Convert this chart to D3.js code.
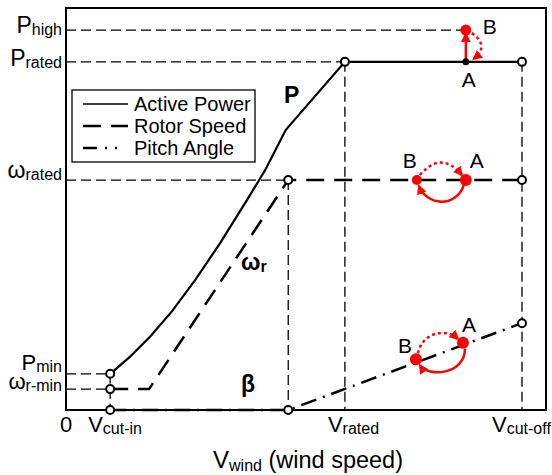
<!DOCTYPE html>
<html><head><meta charset="utf-8">
<script src="https://cdn.jsdelivr.net/npm/d3@7/dist/d3.min.js"></script>
<style>
html,body{margin:0;padding:0;background:#fff;}
text{font-family:"Liberation Sans",Arial,Helvetica,sans-serif;fill:#000;}
</style></head>
<body>
<svg id="chart" width="552" height="475"></svg>
<script>
// ---- data (schematic wind-turbine operating curves, normalised units 0..100) ----
const powerWind = [9.2, 13.3, 17.5, 22.1, 26.9, 32.1, 37.7, 41.5, 45.8, 58.1, 95];
const powerVals = [9.0, 13.2, 18.2, 24.6, 32.3, 41.5, 52.2, 59.7, 69.7, 86.6, 86.6];
const rotorWind = [9.2, 17.3, 46.3, 95];
const rotorVals = [5.2, 5.2, 57.2, 57.2];
const pitchWind = [9.2, 46.3, 95];
const pitchVals = [0, 0, 21.6];

const vCutIn = 9.2, vKnee = 46.3, vRated = 58.1, vCutOff = 95;
const pHigh = 94.5, pRated = 86.6, wRated = 57.2, pMin = 9.0, wRmin = 5.2;

const xTickLabels = [
  {v: vCutIn,  main: "V", sub: "cut-in"},
  {v: vRated,  main: "V", sub: "rated"},
  {v: vCutOff, main: "V", sub: "cut-off"}
];
const yTickLabels = [
  {v: pHigh,  main: "P", sub: "high"},
  {v: pRated, main: "P", sub: "rated"},
  {v: wRated, main: "ω", sub: "rated"},
  {v: pMin,   main: "P", sub: "min"},
  {v: wRmin,  main: "ω", sub: "r-min"}
];
const legendItems = ["Active Power", "Rotor Speed", "Pitch Angle"];

// annotation points (A -> B transitions)
const topA = [83.3, pRated], topB = [83.3, pHigh];
const midA = [83.3, wRated], midB = [73.1, wRated];
const pitA = [82.7, 16.7],   pitB = [72.9, 12.6];

// ---- layout ----
const svg = d3.select("#chart");
const x = d3.scaleLinear().domain([0, 100]).range([66, 546]);
const y = d3.scaleLinear().domain([0, 100]).range([410, 8]);

const defs = svg.append("defs");
defs.append("marker").attr("id", "arrR").attr("viewBox", "0 0 10 10")
  .attr("refX", 8).attr("refY", 5).attr("markerWidth", 4).attr("markerHeight", 4)
  .attr("orient", "auto").append("path").attr("d", "M0,0 L10,5 L0,10 z").attr("fill", "red");

const zip = (a, b) => a.map((v, i) => [v, b[i]]);
const line = d3.line().x(d => x(d[0])).y(d => y(d[1]));

// guide dashed lines
const guide = (x1, y1, x2, y2) => svg.append("line")
  .attr("x1", x(x1)).attr("y1", y(y1)).attr("x2", x(x2)).attr("y2", y(y2))
  .attr("stroke", "#000").attr("stroke-width", 1.3).attr("stroke-dasharray", "10,5");
guide(0, pHigh, topB[0], pHigh);
guide(0, pRated, vRated, pRated);
guide(0, wRated, vKnee, wRated);
guide(0, pMin, vCutIn, pMin);
guide(0, wRmin, vCutIn, wRmin);
guide(vCutIn, pMin, vCutIn, 0);
guide(vKnee, wRated, vKnee, 0);
guide(vRated, pRated, vRated, 0);
guide(vCutOff, pRated, vCutOff, 0);

// frame
svg.append("rect").attr("x", x(0)).attr("y", y(100)).attr("width", x(100) - x(0))
  .attr("height", y(0) - y(100)).attr("fill", "none").attr("stroke", "#000").attr("stroke-width", 2);

// curves
svg.append("path").attr("d", line(zip(pitchWind, pitchVals))).attr("fill", "none")
  .attr("stroke", "#000").attr("stroke-width", 2.5).attr("stroke-dasharray", "16,7,2,7");
svg.append("path").attr("d", line(zip(rotorWind, rotorVals))).attr("fill", "none")
  .attr("stroke", "#000").attr("stroke-width", 2.5).attr("stroke-dasharray", "18,10");
svg.append("path").attr("d", line(zip(powerWind, powerVals))).attr("fill", "none")
  .attr("stroke", "#000").attr("stroke-width", 2.2);

// open circles at curve ends / breaks
const openPts = [
  [powerWind[0], powerVals[0]], [vRated, pRated], [vCutOff, pRated],
  [rotorWind[0], rotorVals[0]], [vKnee, wRated], [vCutOff, wRated],
  [pitchWind[0], pitchVals[0]], [vKnee, 0], [vCutOff, pitchVals[2]]
];
svg.selectAll("circle.open").data(openPts).enter().append("circle").attr("class", "open")
  .attr("cx", d => x(d[0])).attr("cy", d => y(d[1])).attr("r", 4)
  .attr("fill", "#fff").attr("stroke", "#000").attr("stroke-width", 2);

// curve labels
svg.append("text").attr("x", 284).attr("y", 103).attr("font-size", 23).attr("font-weight", "bold").text("P");
const wr = svg.append("text").attr("x", 241).attr("y", 270).attr("font-size", 23).attr("font-weight", "bold");
wr.append("tspan").text("ω");
wr.append("tspan").attr("font-size", 16).attr("dy", 2).text("r");
svg.append("text").attr("x", 241).attr("y", 392).attr("font-size", 23).attr("font-weight", "bold").text("β");

// legend
const lg = svg.append("g");
lg.append("rect").attr("x", 72).attr("y", 90).attr("width", 183).attr("height", 72)
  .attr("fill", "#fff").attr("stroke", "#000").attr("stroke-width", 1.3);
const legDash = [null, "18,10", "14,8,2,8,2,30"];
legendItems.forEach((name, i) => {
  const ry = 104 + i * 22;
  lg.append("line").attr("x1", 83).attr("x2", 128).attr("y1", ry).attr("y2", ry)
    .attr("stroke", "#000").attr("stroke-width", i === 0 ? 1.5 : 2.5)
    .attr("stroke-dasharray", legDash[i]);
  lg.append("text").attr("x", 134).attr("y", ry + 7).attr("font-size", 20).text(name);
});

// y labels (each part as its own text so the two lowest labels do not collide)
const yOff = [3, 4, -2, -4, 0];
yTickLabels.forEach((t, i) => {
  const g = svg.append("g");
  const sub = g.append("text").attr("x", 62).attr("y", y(t.v) + yOff[i] + 2)
    .attr("text-anchor", "end").attr("font-size", 16).text(t.sub);
  const w = sub.node().getComputedTextLength();
  g.append("text").attr("x", 62 - w).attr("y", y(t.v) + yOff[i])
    .attr("text-anchor", "end").attr("font-size", i >= 3 ? 22 : 23).text(t.main);
});

// x labels
svg.append("text").attr("x", x(0)).attr("y", 432).attr("font-size", 22).attr("text-anchor", "middle").text("0");
const xOff = [-22, -17, -30];
xTickLabels.forEach((t, i) => {
  const tx = svg.append("text").attr("x", x(t.v) + xOff[i]).attr("y", 432);
  tx.append("tspan").attr("font-size", 22).text(t.main);
  tx.append("tspan").attr("font-size", 16).attr("dy", 2).text(t.sub);
});
const xt = svg.append("text").attr("x", 213).attr("y", 468);
xt.append("tspan").attr("font-size", 24).text("V");
xt.append("tspan").attr("font-size", 16).attr("dy", 3).text("wind");
xt.append("tspan").attr("font-size", 23.5).attr("dy", -3).text(" (wind speed)");

// ---- red annotations ----
const red = "red";
const arc = (d, dotted) => svg.append("path").attr("d", d).attr("fill", "none")
  .attr("stroke", red).attr("stroke-width", 2.5).attr("stroke-dasharray", dotted ? "3,3" : null)
  .attr("marker-end", "url(#arrR)");

// top: P rated -> P high
const tA = [x(topA[0]), y(topA[1])], tB = [x(topB[0]), y(topB[1])];
arc(`M${tA[0]},${tA[1]} L${tB[0]},${tB[1] + 4}`, false);
arc(`M${tB[0] + 6},${tB[1] + 3} Q${tB[0] + 24},${(tA[1] + tB[1]) / 2} ${tA[0] + 8},${tA[1] - 3}`, true);
svg.append("circle").attr("cx", tB[0]).attr("cy", tB[1]).attr("r", 5.5).attr("fill", red);
svg.append("circle").attr("cx", tA[0]).attr("cy", tA[1]).attr("r", 3.5).attr("fill", "#000");

// middle: rotor speed
const mA = [x(midA[0]), y(midA[1])], mB = [x(midB[0]), y(midB[1])];
arc(`M${mB[0] + 3},${mB[1] - 5} Q${(mA[0] + mB[0]) / 2},${mA[1] - 30} ${mA[0] - 4},${mA[1] - 5}`, true);
arc(`M${mA[0] - 2},${mA[1] + 5} C${mA[0] - 10},${mA[1] + 28} ${mB[0] + 10},${mB[1] + 26} ${mB[0] + 2},${mB[1] + 6}`, false);
svg.append("circle").attr("cx", mA[0]).attr("cy", mA[1]).attr("r", 6).attr("fill", red);
svg.append("circle").attr("cx", mB[0]).attr("cy", mB[1]).attr("r", 5).attr("fill", red);

// bottom: pitch angle
const pA = [x(pitA[0]), y(pitA[1])], pB = [x(pitB[0]), y(pitB[1])];
arc(`M${pB[0] + 2},${pB[1] - 6} C${pB[0] + 6},${pB[1] - 26} ${pA[0] - 18},${pA[1] - 16} ${pA[0] - 5},${pA[1] - 4}`, true);
arc(`M${pA[0] + 2},${pA[1] + 6} C${pA[0] + 2},${pA[1] + 32} ${pB[0] + 12},${pB[1] + 18} ${pB[0] + 4},${pB[1] + 6}`, false);
svg.append("circle").attr("cx", pA[0]).attr("cy", pA[1]).attr("r", 6).attr("fill", red);
svg.append("circle").attr("cx", pB[0]).attr("cy", pB[1]).attr("r", 6).attr("fill", red);

// A/B labels
const lab = (t, px, py) => svg.append("text").attr("x", px).attr("y", py)
  .attr("font-size", 21).attr("text-anchor", "middle").text(t);
lab("B", tB[0] + 24, 34);
lab("A", tA[0] + 3, 87);
lab("B", mB[0] - 7, 168);
lab("A", mA[0] + 11, 168);
lab("B", pB[0] - 11, 353);
lab("A", pA[0] + 6, 332);
</script>
</body></html>
